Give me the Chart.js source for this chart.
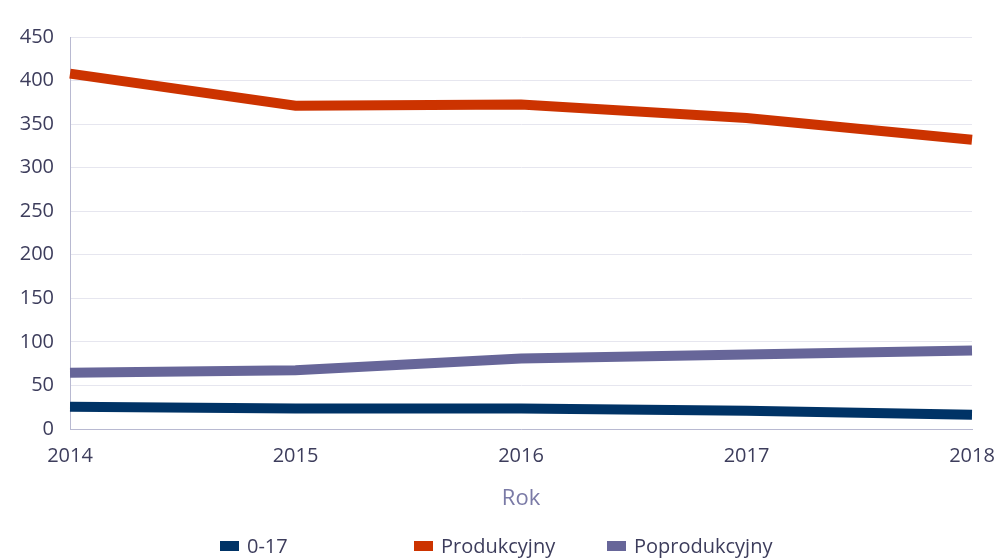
<!DOCTYPE html>
<html><head><meta charset="utf-8">
<script src="https://cdn.jsdelivr.net/npm/chart.js@4/dist/chart.umd.min.js"></script>
<style>
html,body{margin:0;padding:0;background:#fff;}
#wrap{position:relative;width:1001px;height:559px;}
canvas{position:absolute;left:0;top:0;}
#legend{position:absolute;top:532px;left:0;width:1001px;height:26px;font-family:"Open Sans",sans-serif;font-size:20px;color:#3d3d5c;}
.item{position:absolute;top:0;display:flex;align-items:center;white-space:nowrap;}
.sw{width:19px;height:10px;margin-right:8px;display:inline-block;}
</style></head>
<body><div id="wrap"><canvas id="c" width="1001" height="559"></canvas>
<div id="legend"></div></div>
<script>
const years = ['2014','2015','2016','2017','2018'];
const seriesNames = ['0-17','Produkcyjny','Poprodukcyjny'];
const val017 = [25.6, 23.5, 23.5, 21, 16.5];
const valProd = [408, 371, 372.5, 357, 332];
const valPoprod = [64.5, 67.5, 81, 85.5, 90];
const yTicks = [0,50,100,150,200,250,300,350,400,450];
const colors = ['#003366','#cc3300','#676699'];
const legendX = [220, 414, 607];

const datasets = [val017, valProd, valPoprod].map((d,i)=>({
  label: seriesNames[i], data: d, borderColor: colors[i], backgroundColor: colors[i],
  borderWidth: 10, pointRadius: 0, tension: 0, fill: false, borderCapStyle:'butt'
}));

const lg = document.getElementById('legend');
seriesNames.forEach((n,i)=>{
  const d=document.createElement('div'); d.className='item'; d.style.left=legendX[i]+'px';
  d.innerHTML='<span class="sw" style="background:'+colors[i]+'"></span><span>'+n+'</span>';
  lg.appendChild(d);
});

new Chart(document.getElementById('c'), {
  type:'line',
  data:{labels: years, datasets},
  options:{
    responsive:false, animation:false,
    layout:{padding:{top:37,right:29,bottom:45,left:0}},
    plugins:{legend:{display:false},tooltip:{enabled:false}},
    scales:{
      x:{
        offset:false,
        grid:{display:false, drawTicks:false},
        border:{display:true,color:'#b8b9d1',width:1},
        ticks:{color:'#3d3d5c',font:{family:'Open Sans',size:20},padding:15,maxRotation:0},
        title:{display:true,text:'Rok',color:'#7a7aa6',font:{family:'Open Sans',size:22},padding:{top:0,bottom:2}},
        afterFit:(s)=>{s.height=85; s.paddingLeft=0; s.paddingRight=0;}
      },
      y:{
        min:0,max:450,
        afterBuildTicks:(s)=>{s.ticks=yTicks.map(v=>({value:v}));},
        grid:{color:'#e6e6ef',drawTicks:false,lineWidth:1},
        border:{display:true,color:'#b8b9d1',width:1},
        ticks:{color:'#3d3d5c',font:{family:'Open Sans',size:20},padding:16},
        afterFit:(s)=>{s.width=70; s.paddingTop=0; s.paddingBottom=0;}
      }
    }
  }
});
</script></body></html>
